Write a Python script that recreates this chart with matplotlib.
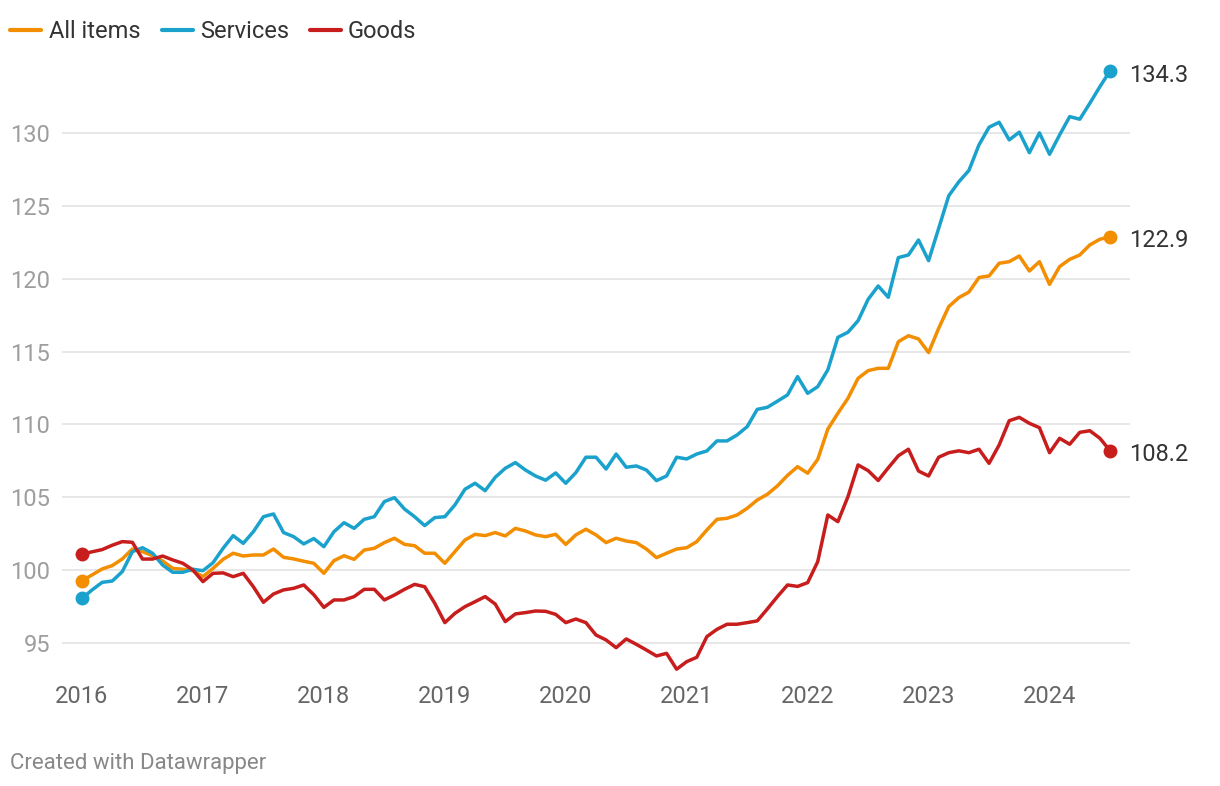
import matplotlib
matplotlib.use("Agg")
import matplotlib.pyplot as plt
from matplotlib.lines import Line2D
import numpy as np

# ---- data (monthly, Jan 2016 - Jul 2024) ----
years = ["2016", "2017", "2018", "2019", "2020", "2021", "2022", "2023", "2024"]
year_start_idx = [0, 12, 24, 36, 48, 60, 72, 84, 96]

all_items = [
    99.27, 99.66, 100.07, 100.3, 100.76, 101.44, 101.26, 100.98, 100.62, 100.11, 100.05, 99.95,
    99.54, 100.11, 100.73, 101.15, 100.96, 101.03, 101.03, 101.44, 100.87, 100.76, 100.6, 100.46,
    99.77, 100.64, 100.98, 100.73, 101.37, 101.49, 101.88, 102.18, 101.76, 101.67, 101.15, 101.15,
    100.46, 101.26, 102.06, 102.45, 102.36, 102.57, 102.34, 102.86, 102.68, 102.41, 102.29, 102.45,
    101.76, 102.41, 102.8, 102.41, 101.88, 102.18, 101.99, 101.88, 101.44, 100.85, 101.15, 101.44,
    101.53, 101.95, 102.75, 103.48, 103.55, 103.78, 104.24, 104.81, 105.2, 105.78, 106.5, 107.1,
    106.65, 107.6, 109.68, 110.77, 111.8, 113.17, 113.7, 113.86, 113.86, 115.69, 116.1, 115.88,
    114.94, 116.61, 118.1, 118.72, 119.1, 120.1, 120.21, 121.08, 121.19, 121.58, 120.55, 121.19,
    119.63, 120.85, 121.35, 121.65, 122.34, 122.73, 122.9,
]

services = [
    98.05, 98.63, 99.15, 99.24, 99.89, 101.26, 101.53, 101.15, 100.34, 99.84, 99.84, 100.05,
    99.95, 100.5, 101.49, 102.36, 101.83, 102.63, 103.66, 103.85, 102.57, 102.29, 101.79, 102.16,
    101.6, 102.63, 103.25, 102.86, 103.48, 103.66, 104.7, 104.97, 104.19, 103.66, 103.05, 103.6,
    103.66, 104.47, 105.55, 105.96, 105.45, 106.37, 106.99, 107.38, 106.87, 106.46, 106.17, 106.67,
    105.96, 106.69, 107.75, 107.75, 106.94, 107.97, 107.06, 107.15, 106.87, 106.14, 106.46, 107.75,
    107.63, 107.97, 108.18, 108.87, 108.87, 109.28, 109.85, 111.04, 111.18, 111.6, 112.03, 113.29,
    112.14, 112.6, 113.75, 115.99, 116.34, 117.13, 118.6, 119.52, 118.74, 121.47, 121.65, 122.68,
    121.26, 123.48, 125.72, 126.68, 127.46, 129.22, 130.43, 130.77, 129.56, 130.09, 128.68, 130.04,
    128.57, 129.9, 131.16, 130.98, 132.08, 133.22, 134.3,
]

goods = [
    101.08, 101.25, 101.4, 101.7, 101.95, 101.9, 100.75, 100.75, 100.96, 100.69, 100.46, 100.0,
    99.2, 99.77, 99.8, 99.54, 99.77, 98.85, 97.78, 98.35, 98.63, 98.74, 98.97, 98.3,
    97.43, 97.94, 97.94, 98.17, 98.67, 98.67, 97.94, 98.28, 98.67, 99.01, 98.85, 97.71,
    96.38, 97.02, 97.48, 97.82, 98.17, 97.66, 96.45, 96.98, 97.07, 97.18, 97.16, 96.95,
    96.38, 96.63, 96.38, 95.53, 95.19, 94.66, 95.26, 94.89, 94.5, 94.09, 94.27, 93.18,
    93.7, 94.0, 95.42, 95.92, 96.27, 96.27, 96.38, 96.5, 97.32, 98.17, 98.97, 98.87,
    99.13, 100.57, 103.78, 103.32, 105.04, 107.22, 106.83, 106.15, 107.02, 107.85, 108.3, 106.8,
    106.46, 107.75, 108.06, 108.19, 108.06, 108.3, 107.33, 108.59, 110.26, 110.49, 110.08, 109.78,
    108.06, 109.05, 108.64, 109.46, 109.57, 109.05, 108.2,
]

series_names = ["All items", "Services", "Goods"]
end_labels = ["122.9", "134.3", "108.2"]
y_ticks = [95, 100, 105, 110, 115, 120, 125, 130]

# ---- style ----
plt.rcParams["font.family"] = ["Roboto", "DejaVu Sans"]
colors = ["#f28e00", "#1aa2cd", "#c71e1d"]
W, H = 1220, 786
fig = plt.figure(figsize=(W / 100, H / 100), dpi=100)

px_per_month = 10.08
left_px, right_px = 62, 1130
x_first_px = 82
xlim = (-(x_first_px - left_px) / px_per_month,
        (len(all_items) - 1) + (right_px - 1110) / px_per_month)
ylim = (92.5, 135.6)
top_px = 52
bot_px = 679.1
ax = fig.add_axes([left_px / W, 1 - bot_px / H, (right_px - left_px) / W, (bot_px - top_px) / H])
ax.set_xlim(*xlim)
ax.set_ylim(*ylim)

for s in ax.spines.values():
    s.set_visible(False)

ax.set_yticks(y_ticks)
ax.set_yticklabels([str(v) for v in y_ticks])
ax.yaxis.grid(True, color="#e3e3e3", linewidth=1.2)
ax.set_axisbelow(True)
ax.set_xticks(year_start_idx)
ax.set_xticklabels(years)
ax.tick_params(axis="y", length=0, pad=8.5, labelsize=17, labelcolor="#9e9e9e")
ax.tick_params(axis="x", length=0, pad=4.5, labelsize=17, labelcolor="#666666")

x = np.arange(len(all_items))
data = [all_items, services, goods]
for vals, c, lab in zip(data, colors, end_labels):
    ax.plot(x, vals, color=c, linewidth=2.5, solid_joinstyle="round",
            solid_capstyle="round", zorder=3)
    ax.plot([x[0], x[-1]], [vals[0], vals[-1]], "o", color=c, markersize=9,
            clip_on=False, zorder=4)
    ax.annotate(lab, (x[-1], vals[-1]), xytext=(14, -3), textcoords="offset points",
                va="center", ha="left", fontsize=17, color="#333333", annotation_clip=False)

# ---- legend (top) ----
leg_line_x = [(10, 41), (162, 193), (310, 341)]
leg_text_x = [49, 200, 348]
leg_y = 30
leg_text_y = 32
for (x0, x1), tx, c, name in zip(leg_line_x, leg_text_x, colors, series_names):
    fig.add_artist(Line2D([x0 / W, x1 / W], [1 - leg_y / H, 1 - leg_y / H], color=c,
                          linewidth=3, solid_capstyle="round", transform=fig.transFigure))
    fig.text(tx / W, 1 - leg_text_y / H, name, fontsize=17, color="#333333",
             va="center", ha="left")

fig.text(10 / W, 1 - 764 / H, "Created with Datawrapper", fontsize=16,
         color="#888888", va="center", ha="left")

fig.savefig("out.png", dpi=100, facecolor="white")
